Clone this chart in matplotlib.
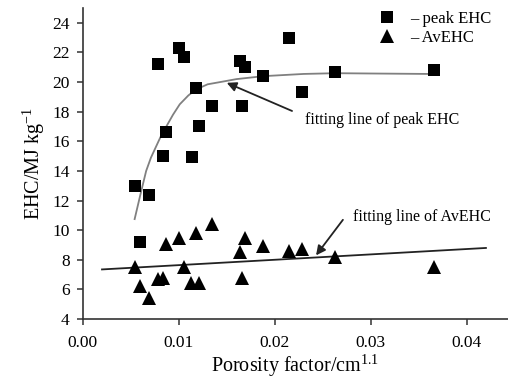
import matplotlib
matplotlib.use("Agg")
import matplotlib.pyplot as plt
from matplotlib.lines import Line2D

plt.rcParams['font.family'] = ['Liberation Serif', 'DejaVu Serif']
plt.rcParams['mathtext.fontset'] = 'custom'
plt.rcParams['mathtext.rm'] = 'Liberation Serif'

# --- data ---
peak_x = [0.0054, 0.0069, 0.0060, 0.0078, 0.0100, 0.0105, 0.0118, 0.0135,
          0.0121, 0.0087, 0.0084, 0.0114, 0.0164, 0.0169, 0.0188, 0.0166,
          0.0215, 0.0228, 0.0263, 0.0366]
peak_y = [13.0, 12.4, 9.2, 21.2, 22.3, 21.7, 19.6, 18.4,
          17.06, 16.6, 15.0, 14.97, 21.4, 21.05, 20.4, 18.4,
          23.0, 19.3, 20.7, 20.8]

av_x = [0.0054, 0.0060, 0.0069, 0.0078, 0.0084, 0.0087, 0.0100, 0.0105,
        0.0118, 0.0113, 0.0121, 0.0135, 0.0169, 0.0164, 0.0166, 0.0188,
        0.0215, 0.0228, 0.0263, 0.0366]
av_y = [7.54, 6.2, 5.4, 6.7, 6.8, 9.05, 9.45, 7.54,
        9.8, 6.45, 6.4, 10.4, 9.5, 8.5, 6.75, 8.93,
        8.6, 8.7, 8.2, 7.5]

# fitted curves, points
peak_fit_x = [0.0054, 0.0060, 0.0066, 0.0071, 0.0076, 0.0081, 0.0087, 0.0094,
              0.0101, 0.0110, 0.0118, 0.0130, 0.0143, 0.0160, 0.0188, 0.0230,
              0.0263, 0.0300, 0.0360]
peak_fit_y = [10.75, 12.4, 14.0, 14.9, 15.6, 16.3, 17.0, 17.8,
              18.5, 19.1, 19.5, 19.85, 20.0, 20.2, 20.4, 20.55,
              20.6, 20.58, 20.55]
av_fit_x = [0.0020, 0.0420]
av_fit_y = [7.35, 8.8]

fig = plt.figure(figsize=(5.08, 3.83), dpi=100)
ax = fig.add_axes([0.163, 0.167, 0.837, 0.812])

ax.plot(peak_fit_x, peak_fit_y, '-', color='#808080', lw=1.3, zorder=1)
ax.plot(av_fit_x, av_fit_y, '-', color='#222222', lw=1.3, zorder=1)
ax.plot(peak_x, peak_y, 's', color='black', ms=8, mew=0, zorder=3)
ax.plot(av_x, av_y, '^', color='black', ms=10, mew=0, zorder=3)

ax.set_xlim(0, 0.0443)
ax.set_ylim(4, 25)
ax.set_xticks([0.0, 0.01, 0.02, 0.03, 0.04])
ax.set_xticklabels(['0.00', '0.01', '0.02', '0.03', '0.04'])
ax.set_yticks(range(4, 25, 2))

for s in ['top', 'right']:
    ax.spines[s].set_visible(False)
for s in ['left', 'bottom']:
    ax.spines[s].set_linewidth(1.2)
    ax.spines[s].set_color('#333333')
ax.tick_params(direction='out', length=4.5, width=1.1, color='#333333',
               labelsize=12.5)
ax.tick_params(axis='x', pad=7)
ax.tick_params(axis='y', pad=5)

ax.set_xlabel('Porosity factor/cm$^{1.1}$', fontsize=14.5, labelpad=1)
ax.set_ylabel('EHC/MJ kg$^{-1}$', fontsize=14.5, labelpad=4)

# annotations
arrow = dict(arrowstyle='-|>', color='#222222', lw=1.3,
             shrinkA=0, shrinkB=0, mutation_scale=14)
ax.text(0.0231, 17.45, 'fitting line of peak EHC', fontsize=11.5,
        va='center', ha='left')
ax.annotate('', xy=(0.0150, 19.95), xytext=(0.0218, 18.05), arrowprops=arrow)
ax.text(0.0282, 10.9, 'fitting line of AvEHC', fontsize=11.5,
        va='center', ha='left')
ax.annotate('', xy=(0.0243, 8.3), xytext=(0.0271, 10.7), arrowprops=arrow)

handles = [Line2D([], [], marker='s', ls='', color='black', ms=8, mew=0),
           Line2D([], [], marker='^', ls='', color='black', ms=10, mew=0)]
ax.legend(handles, ['\u2013 peak EHC', '\u2013 AvEHC'], loc='upper left',
          bbox_to_anchor=(0.68, 1.012), frameon=False, fontsize=12,
          handlelength=1.0, handletextpad=0.9, labelspacing=0.2,
          borderaxespad=0.0)

fig.savefig('out.png', dpi=100)
